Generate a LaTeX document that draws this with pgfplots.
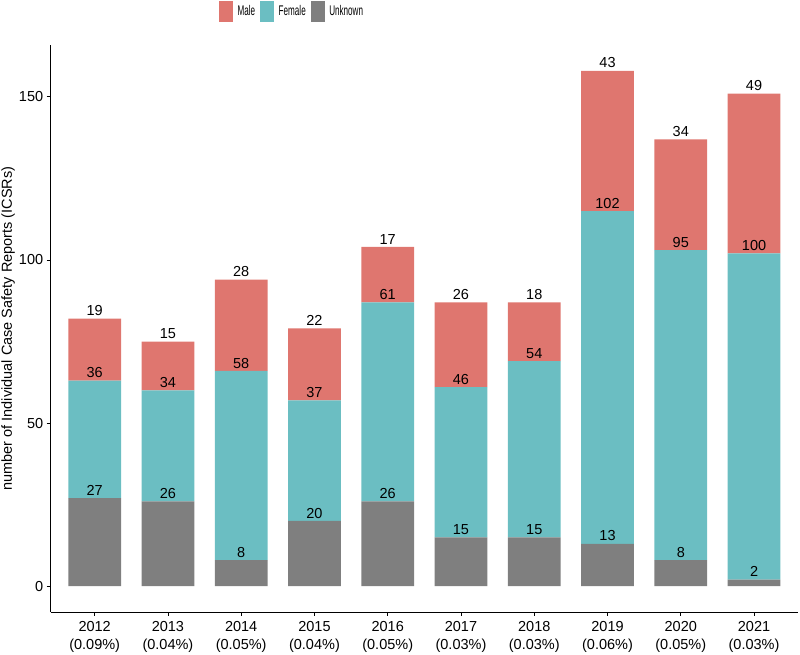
\documentclass[border=0pt]{standalone}
\usepackage{fontspec}
\setmainfont{Liberation Sans}
\usepackage{pgfplots}
\usepackage{pgfplotstable}
\pgfplotsset{compat=1.18}
\definecolor{cmale}{HTML}{DF766F}
\definecolor{cfemale}{HTML}{6BBEC2}
\definecolor{cunk}{HTML}{7F7F7F}
\pgfplotstableread{
x m f u
0 19 36 27
1 15 34 26
2 28 58 8
3 22 37 20
4 17 61 26
5 26 46 15
6 18 54 15
7 43 102 13
8 34 95 8
9 49 100 2
}\data
\newcommand{\tickfont}{\fontsize{14.5}{18}\selectfont}
\newcommand{\legfont}{\fontsize{14}{16}\selectfont}
\pgfplotsset{
  common/.style={
    scale only axis,
    width=747.3pt, height=567pt,
    at={(50.7pt,43pt)}, anchor=south west,
    xmin=-0.6, xmax=9.6, ymin=-7.9, ymax=165.9,
    /pgf/number format/assume math mode=true,
  }
}
\begin{document}
\begin{tikzpicture}
\useasboundingbox (0,0) rectangle (800pt,655pt);
\begin{axis}[common,
  ybar stacked, bar width=0.72, bar shift=0pt,
  axis x line=bottom, axis y line=left,
  axis line style={-, line width=0.9pt, black},
  xtick={0,...,9},
  xticklabels={{2012\\(0.09\%)},{2013\\(0.04\%)},{2014\\(0.05\%)},{2015\\(0.04\%)},{2016\\(0.05\%)},{2017\\(0.03\%)},{2018\\(0.03\%)},{2019\\(0.06\%)},{2020\\(0.05\%)},{2021\\(0.03\%)}},
  xticklabel style={align=center, font=\tickfont, yshift=-2pt},
  ytick={0,50,100,150},
  yticklabel style={font=\tickfont},
  tick align=outside, major tick length=4pt,
  tick style={black, line width=0.8pt},
  every axis y label/.style={at={(axis description cs:-0.0571,0.5)}, rotate=90, anchor=center},
  ylabel={number of Individual Case Safety Reports (ICSRs)},
  ylabel style={font=\tickfont},
  reverse legend,
  legend columns=3,
  legend style={at={(0.3217,1.0591)}, anchor=center, draw=none, inner sep=0pt,
    font=\legfont,
    nodes={inner sep=0pt},
    /tikz/every even column/.append style={column sep=5pt},
    /tikz/every odd column/.append style={column sep=4.5pt}},
  legend image code/.code={\fill[#1] (0pt,-10.5pt) rectangle (14pt,10.5pt);},
]
\addplot[fill=cunk, draw=none] table[x=x,y=u] {\data};
\addlegendentry{\legfont\scalebox{0.58}[1]{Unknown}}
\addplot[fill=cfemale, draw=none] table[x=x,y=f] {\data};
\addlegendentry{\legfont\scalebox{0.58}[1]{Female}}
\addplot[fill=cmale, draw=none] table[x=x,y=m] {\data};
\addlegendentry{\legfont\scalebox{0.58}[1]{Male}}
\end{axis}
\begin{axis}[common, hide axis, stack plots=y,
  nodes near coords, point meta=explicit,
  every node near coord/.append style={font=\tickfont, anchor=south, inner sep=0pt, yshift=2.5pt, black},
]
\addplot[draw=none, mark=none] table[x=x,y=u,meta=u] {\data};
\addplot[draw=none, mark=none] table[x=x,y=f,meta=f] {\data};
\addplot[draw=none, mark=none] table[x=x,y=m,meta=m] {\data};
\end{axis}
\end{tikzpicture}
\end{document}
